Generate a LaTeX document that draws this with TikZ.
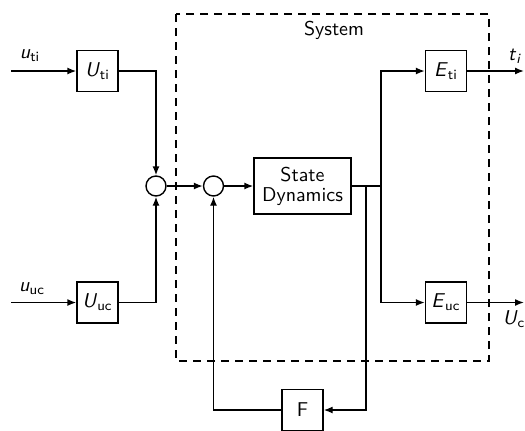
\documentclass[tikz,border=0pt]{standalone}
\usepackage{tikz}
\usetikzlibrary{arrows.meta,positioning}
\renewcommand{\familydefault}{\sfdefault}
\newcommand{\sig}[2]{\textit{#1}\textsubscript{#2}}
\tikzstyle{block} = [rectangle, draw, line width=0.7pt, minimum width=20.5pt, minimum height=20.5pt, inner sep=1pt, text centered]
\tikzstyle{sumnode} = [circle, draw, line width=0.7pt, minimum size=10pt, inner sep=0pt]
\tikzstyle{arrow} = [line width=0.7pt, -{Latex[length=4.5pt,width=3.5pt]}]
\tikzstyle{wire} = [line width=0.7pt]

\begin{document}
\begin{tikzpicture}[x=0.5pt, y=-0.5pt, every node/.style={font=\normalsize}]
\useasboundingbox (0,0) rectangle (525,430);

% System boundary
\draw[line width=0.6pt, dashed, dash pattern=on 4pt off 3pt] (176,14) rectangle (489,361);
\node (system) at (334,30) {System};

% Input filters
\node[block] (uti) at (97.5,71) {\sig{U}{ti}};
\node[block] (uuc) at (97.5,302.5) {\sig{U}{uc}};
\coordinate (inti) at (11,71);
\coordinate (inuc) at (11,302.5);
\node (lti) at (30,56) {\sig{u}{ti}};
\node (luc) at (32,289) {\sig{u}{uc}};

% Summing points
\node[sumnode] (sumin) at (156,186) {};
\node[sumnode] (sumfb) at (213.5,186) {};

% Plant and outputs
\node[block, minimum width=48.5pt, minimum height=28pt, align=center] (dyn) at (302.5,186) {State\\[-2pt]Dynamics};
\node[block] (eti) at (446,71) {\sig{E}{ti}};
\node[block] (euc) at (446,302.5) {\sig{E}{uc}};
\coordinate (split) at (381,186);
\coordinate (tap) at (366,186);
\coordinate (outti) at (524,71);
\coordinate (outuc) at (524,302.5);
\node (lt) at (515,56) {\textit{t}\textsubscript{\textit{i}}};
\node (lU) at (514,319) {\sig{U}{c}};

% Feedback
\node[block] (fb) at (302.5,410) {F};

% Connections
\draw[arrow] (inti) -- (uti);
\draw[arrow] (inuc) -- (uuc);
\draw[arrow] (uti.east) -| (sumin.north);
\draw[arrow] (uuc.east) -| (sumin.south);
\draw[arrow] (sumin) -- (sumfb);
\draw[arrow] (sumfb) -- (dyn);
\draw[wire] (dyn.east) -- (split);
\draw[arrow] (split) |- (eti.west);
\draw[arrow] (split) |- (euc.west);
\draw[arrow] (eti) -- (outti);
\draw[arrow] (euc) -- (outuc);
\draw[arrow] (tap) |- (fb.east);
\draw[arrow] (fb.west) -| (sumfb.south);
\end{tikzpicture}
\end{document}
